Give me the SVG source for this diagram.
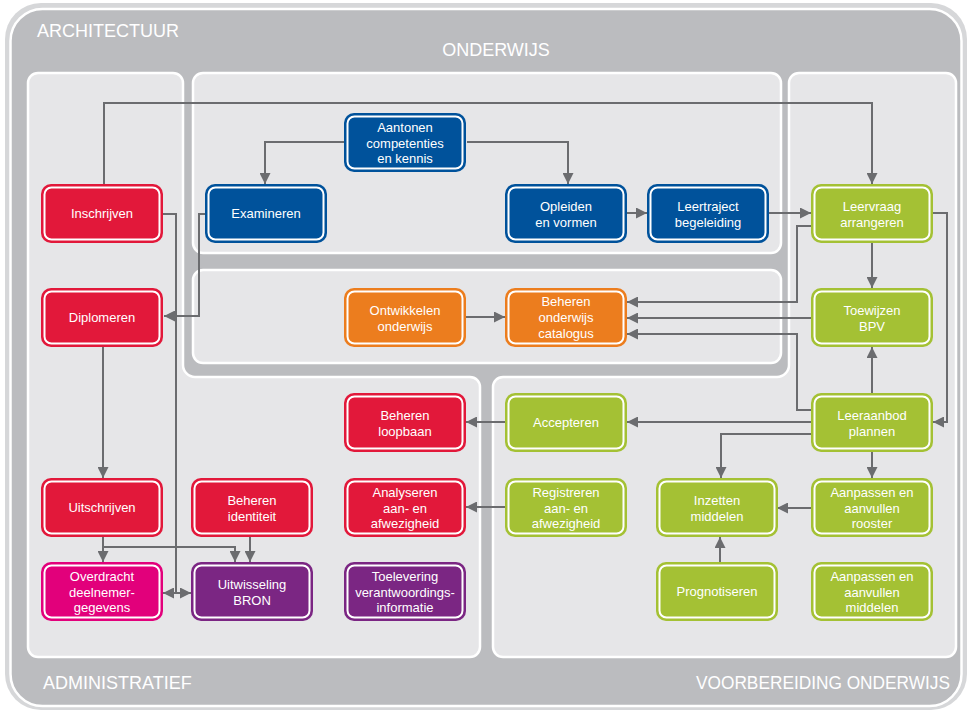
<svg xmlns="http://www.w3.org/2000/svg" width="967" height="711" viewBox="0 0 967 711">
<defs>
<marker id="ah" markerUnits="userSpaceOnUse" markerWidth="11" markerHeight="11" refX="10" refY="5" orient="auto-start-reverse" viewBox="0 0 10 10">
<path d="M0,0 L10,5 L0,10 z" fill="#6b6c6f"/>
</marker>
<style>
.panel{fill:#e6e6e8;stroke:#fff;stroke-width:2.5}
.lbl{font-family:"Liberation Sans",Arial,sans-serif;font-size:18px;fill:#fff}
.nb{stroke:#fff;stroke-width:2;fill:none}
.nt{font-family:"Liberation Sans",Arial,sans-serif;font-size:13px;fill:#fff;text-anchor:middle}
.red{fill:#e2183a}
.blue{fill:#00529b}
.orange{fill:#ec7d1e}
.green{fill:#a4c134}
.magenta{fill:#e2007b}
.purple{fill:#7b2683}
.c{fill:none;stroke:#6b6c6f;stroke-width:2}
.a{marker-end:url(#ah)}
</style>
</defs>
<g id="background">
<rect x="5" y="3" width="962" height="707" rx="36" fill="#d6d7d9"/>
<rect x="10.5" y="9" width="951" height="697" rx="32" fill="#bbbcbf" stroke="#fff" stroke-width="2.5"/>
<path class="panel" d="M38,73 H173 A10,10 0 0 1 183,83 V365 A12,12 0 0 0 195,377 H470 A10,10 0 0 1 480,387 V647 A10,10 0 0 1 470,657 H38 A10,10 0 0 1 28,647 V83 A10,10 0 0 1 38,73 Z"/>
<path class="panel" d="M799,73 H946 A10,10 0 0 1 956,83 V647 A10,10 0 0 1 946,657 H503 A10,10 0 0 1 493,647 V387 A10,10 0 0 1 503,377 H777 A12,12 0 0 0 789,365 V83 A10,10 0 0 1 799,73 Z"/>
<rect class="panel" x="193" y="73" width="588" height="180" rx="10"/>
<rect class="panel" x="193" y="270" width="588" height="93" rx="10"/>
<text class="lbl" x="37" y="37">ARCHITECTUUR</text>
<text class="lbl" x="496" y="56" text-anchor="middle">ONDERWIJS</text>
<text class="lbl" x="43" y="689">ADMINISTRATIEF</text>
<text class="lbl" x="950" y="689" text-anchor="end" textLength="254" lengthAdjust="spacingAndGlyphs">VOORBEREIDING ONDERWIJS</text>
</g>
<g id="connectors">
<path class="c a" d="M104,184 V103 H872 V184"/>
<path class="c a" d="M344,142 H265 V184"/>
<path class="c a" d="M467,142 H568 V184"/>
<path class="c a" d="M627,213 H647"/>
<path class="c a" d="M769,213 H811"/>
<path class="c" d="M163,214 H176 V593"/>
<path class="c a" d="M163,593 H191" marker-start="url(#ah)"/>
<path class="c a" d="M205,214 H199 V316 H164"/>
<path class="c a" d="M103,347 V478"/>
<path class="c a" d="M103,537 V562"/>
<path class="c a" d="M103,547 H235 V562"/>
<path class="c a" d="M250,537 V562"/>
<path class="c a" d="M933,213 H947 V422 H933"/>
<path class="c a" d="M811,226 H797 V302 H627"/>
<path class="c a" d="M872,243 V288"/>
<path class="c a" d="M811,318 H627"/>
<path class="c a" d="M811,410 H797 V334 H627"/>
<path class="c a" d="M872,393 V347"/>
<path class="c a" d="M811,422 H627"/>
<path class="c a" d="M505,422 H466"/>
<path class="c a" d="M811,434 H721 V478"/>
<path class="c a" d="M872,451 V478"/>
<path class="c a" d="M811,508 H777"/>
<path class="c a" d="M720,562 V537"/>
<path class="c a" d="M505,507 H466"/>
<path class="c a" d="M466,317 H505"/>
</g>
<g id="aantonen"><rect class="blue" x="344" y="113" width="122" height="59" rx="10"/><rect class="nb" x="347.5" y="116.5" width="115" height="52" rx="7"/><text class="nt" x="405" y="132">Aantonen</text><text class="nt" x="405" y="147.5">competenties</text><text class="nt" x="405" y="163">en kennis</text></g>
<g id="inschrijven"><rect class="red" x="41" y="184" width="122" height="59" rx="10"/><rect class="nb" x="44.5" y="187.5" width="115" height="52" rx="7"/><text class="nt" x="102" y="218">Inschrijven</text></g>
<g id="examineren"><rect class="blue" x="205" y="184" width="122" height="59" rx="10"/><rect class="nb" x="208.5" y="187.5" width="115" height="52" rx="7"/><text class="nt" x="266" y="218">Examineren</text></g>
<g id="opleiden"><rect class="blue" x="505" y="184" width="122" height="59" rx="10"/><rect class="nb" x="508.5" y="187.5" width="115" height="52" rx="7"/><text class="nt" x="566" y="211">Opleiden</text><text class="nt" x="566" y="227">en vormen</text></g>
<g id="leertraject"><rect class="blue" x="647" y="184" width="122" height="59" rx="10"/><rect class="nb" x="650.5" y="187.5" width="115" height="52" rx="7"/><text class="nt" x="708" y="211">Leertraject</text><text class="nt" x="708" y="227">begeleiding</text></g>
<g id="leervraag"><rect class="green" x="811" y="184" width="122" height="59" rx="10"/><rect class="nb" x="814.5" y="187.5" width="115" height="52" rx="7"/><text class="nt" x="872" y="211">Leervraag</text><text class="nt" x="872" y="227">arrangeren</text></g>
<g id="diplomeren"><rect class="red" x="41" y="288" width="122" height="59" rx="10"/><rect class="nb" x="44.5" y="291.5" width="115" height="52" rx="7"/><text class="nt" x="102" y="322">Diplomeren</text></g>
<g id="ontwikkelen"><rect class="orange" x="344" y="288" width="122" height="59" rx="10"/><rect class="nb" x="347.5" y="291.5" width="115" height="52" rx="7"/><text class="nt" x="405" y="315">Ontwikkelen</text><text class="nt" x="405" y="331">onderwijs</text></g>
<g id="catalogus"><rect class="orange" x="505" y="288" width="122" height="59" rx="10"/><rect class="nb" x="508.5" y="291.5" width="115" height="52" rx="7"/><text class="nt" x="566" y="306">Beheren</text><text class="nt" x="566" y="322">onderwijs</text><text class="nt" x="566" y="338">catalogus</text></g>
<g id="toewijzen"><rect class="green" x="811" y="288" width="122" height="59" rx="10"/><rect class="nb" x="814.5" y="291.5" width="115" height="52" rx="7"/><text class="nt" x="872" y="315">Toewijzen</text><text class="nt" x="872" y="331">BPV</text></g>
<g id="loopbaan"><rect class="red" x="344" y="393" width="122" height="59" rx="10"/><rect class="nb" x="347.5" y="396.5" width="115" height="52" rx="7"/><text class="nt" x="405" y="420">Beheren</text><text class="nt" x="405" y="436">loopbaan</text></g>
<g id="accepteren"><rect class="green" x="505" y="393" width="122" height="59" rx="10"/><rect class="nb" x="508.5" y="396.5" width="115" height="52" rx="7"/><text class="nt" x="566" y="427">Accepteren</text></g>
<g id="leeraanbod"><rect class="green" x="811" y="393" width="122" height="59" rx="10"/><rect class="nb" x="814.5" y="396.5" width="115" height="52" rx="7"/><text class="nt" x="872" y="420">Leeraanbod</text><text class="nt" x="872" y="436">plannen</text></g>
<g id="uitschrijven"><rect class="red" x="41" y="478" width="122" height="59" rx="10"/><rect class="nb" x="44.5" y="481.5" width="115" height="52" rx="7"/><text class="nt" x="102" y="512">Uitschrijven</text></g>
<g id="identiteit"><rect class="red" x="191" y="478" width="122" height="59" rx="10"/><rect class="nb" x="194.5" y="481.5" width="115" height="52" rx="7"/><text class="nt" x="252" y="505">Beheren</text><text class="nt" x="252" y="521">identiteit</text></g>
<g id="analyseren"><rect class="red" x="344" y="478" width="122" height="59" rx="10"/><rect class="nb" x="347.5" y="481.5" width="115" height="52" rx="7"/><text class="nt" x="405" y="497">Analyseren</text><text class="nt" x="405" y="512.5">aan- en</text><text class="nt" x="405" y="528">afwezigheid</text></g>
<g id="registreren"><rect class="green" x="505" y="478" width="122" height="59" rx="10"/><rect class="nb" x="508.5" y="481.5" width="115" height="52" rx="7"/><text class="nt" x="566" y="497">Registreren</text><text class="nt" x="566" y="512.5">aan- en</text><text class="nt" x="566" y="528">afwezigheid</text></g>
<g id="inzetten"><rect class="green" x="656" y="478" width="122" height="59" rx="10"/><rect class="nb" x="659.5" y="481.5" width="115" height="52" rx="7"/><text class="nt" x="717" y="505">Inzetten</text><text class="nt" x="717" y="521">middelen</text></g>
<g id="rooster"><rect class="green" x="811" y="478" width="122" height="59" rx="10"/><rect class="nb" x="814.5" y="481.5" width="115" height="52" rx="7"/><text class="nt" x="872" y="497">Aanpassen  en</text><text class="nt" x="872" y="512.5">aanvullen</text><text class="nt" x="872" y="528">rooster</text></g>
<g id="overdracht"><rect class="magenta" x="41" y="562" width="122" height="59" rx="10"/><rect class="nb" x="44.5" y="565.5" width="115" height="52" rx="7"/><text class="nt" x="102" y="581">Overdracht</text><text class="nt" x="102" y="596.5">deelnemer-</text><text class="nt" x="102" y="612">gegevens</text></g>
<g id="bron"><rect class="purple" x="191" y="562" width="122" height="59" rx="10"/><rect class="nb" x="194.5" y="565.5" width="115" height="52" rx="7"/><text class="nt" x="252" y="589">Uitwisseling</text><text class="nt" x="252" y="605">BRON</text></g>
<g id="toelevering"><rect class="purple" x="344" y="562" width="122" height="59" rx="10"/><rect class="nb" x="347.5" y="565.5" width="115" height="52" rx="7"/><text class="nt" x="405" y="581">Toelevering</text><text class="nt" x="405" y="596.5">verantwoordings-</text><text class="nt" x="405" y="612">informatie</text></g>
<g id="prognotiseren"><rect class="green" x="656" y="562" width="122" height="59" rx="10"/><rect class="nb" x="659.5" y="565.5" width="115" height="52" rx="7"/><text class="nt" x="717" y="596">Prognotiseren</text></g>
<g id="middelen"><rect class="green" x="811" y="562" width="122" height="59" rx="10"/><rect class="nb" x="814.5" y="565.5" width="115" height="52" rx="7"/><text class="nt" x="872" y="581">Aanpassen  en</text><text class="nt" x="872" y="596.5">aanvullen</text><text class="nt" x="872" y="612">middelen</text></g>
</svg>
